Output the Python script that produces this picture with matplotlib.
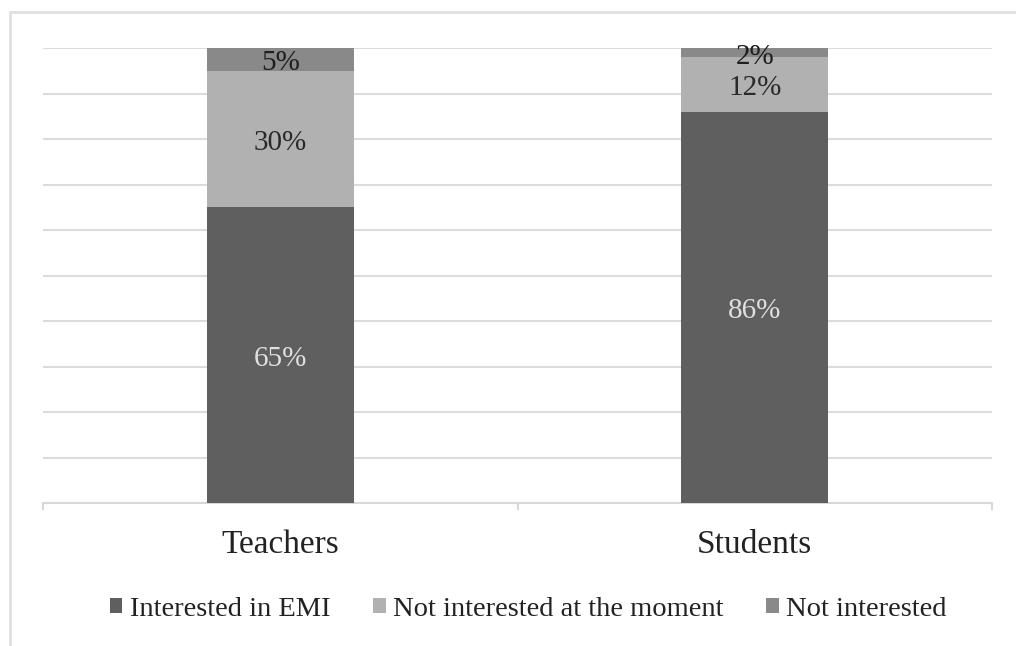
import matplotlib
matplotlib.use("Agg")
import matplotlib.pyplot as plt
from matplotlib.patches import Rectangle, Patch
from matplotlib.transforms import offset_copy

categories = ["Teachers", "Students"]
series_names = ["Interested in EMI", "Not interested at the moment", "Not interested"]
interested = [65, 86]
not_now = [30, 12]
not_interested = [5, 2]
series_values = [interested, not_now, not_interested]
colors = ["#5f5f5f", "#b1b1b1", "#898989"]
label_colors = ["#e0e0e0", "#2a2a2a", "#1e1e1e"]

plt.rcParams['font.family'] = ['Liberation Serif', 'DejaVu Serif']

W, H = 1016, 646
fig = plt.figure(figsize=(W / 100, H / 100), dpi=100)
fig.patch.set_facecolor("white")

# outer chart frame (left and top edges visible)
fig.add_artist(Rectangle((10 / W, -0.1), 1.2, 1 - 12 / H + 0.1, transform=fig.transFigure,
                         fill=False, edgecolor="#e0e0e0", linewidth=2))

ax = fig.add_axes([43 / W, 1 - 503 / H, (992 - 43) / W, (503 - 48) / H])
x = list(range(len(categories)))
bottoms = [0] * len(categories)
label_tr = offset_copy(ax.transData, fig=fig, x=0, y=-4, units="dots")
for vals, col, lc in zip(series_values, colors, label_colors):
    ax.bar(x, vals, width=0.31, bottom=bottoms, color=col, edgecolor="none", zorder=3)
    for xi, v, b in zip(x, vals, bottoms):
        ypos = b + v / 2
        ax.text(xi, ypos, f"{v}%", ha="center", va="center", fontsize=21, color=lc,
                zorder=4, transform=label_tr)
    bottoms = [b + v for b, v in zip(bottoms, vals)]

ax.set_xlim(-0.5, 1.5)
ax.set_ylim(0, 100)
ax.set_yticks(range(0, 101, 10))
ax.yaxis.grid(True, color="#dcdcdc", linewidth=1.5, zorder=0)
ax.tick_params(axis="y", left=False, labelleft=False)
ax.set_xticks(x)
ax.set_xticklabels(categories, fontsize=24)
ax.tick_params(axis="x", length=0, pad=19, colors="#222222")
ax.set_xticks([-0.5, 0.5, 1.5], minor=True)
ax.tick_params(axis="x", which="minor", length=5, color="#d8d8d8", width=1.5)
for s in ["top", "right", "left"]:
    ax.spines[s].set_visible(False)
ax.spines["bottom"].set_color("#d8d8d8")
ax.spines["bottom"].set_linewidth(1.5)

handles = [Patch(facecolor=c, edgecolor="none") for c in colors]
fig.legend(handles, series_names, loc="center", bbox_to_anchor=(528 / W, 1 - 609 / H),
           ncol=3, frameon=False, fontsize=20.5, handlelength=0.45, handleheight=0.45,
           handletextpad=0.25, columnspacing=1.5, labelcolor="#222222")

fig.savefig("out.png", dpi=100)
